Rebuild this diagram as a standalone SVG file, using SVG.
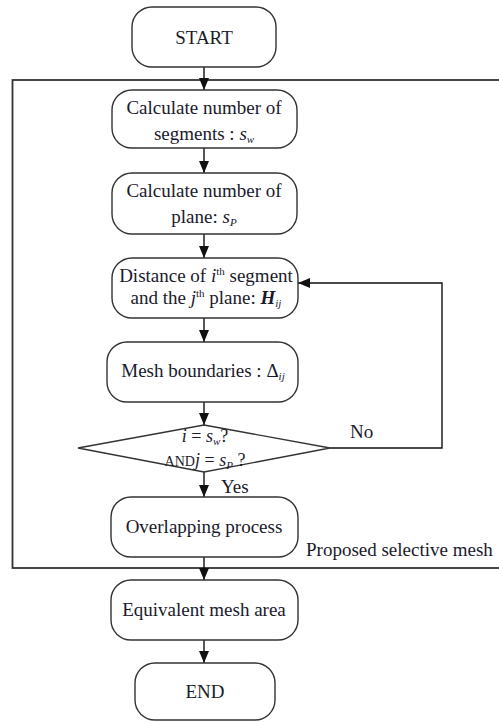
<svg xmlns="http://www.w3.org/2000/svg" width="499" height="723" viewBox="0 0 499 723">
<defs>
<marker id="ah" markerWidth="13" markerHeight="10" refX="12" refY="5" orient="auto" markerUnits="userSpaceOnUse" viewBox="0 0 13 10">
<path d="M0,0 L12,5 L0,10 Z" fill="#111"/>
</marker>
</defs>
<style>
.box{fill:#fff;stroke:#333;stroke-width:1.4}
.frame{fill:none;stroke:#333;stroke-width:1.8}
.t{font-family:"Liberation Serif","Times New Roman",serif;font-size:19px;fill:#1a1a2c;text-anchor:middle}
.s{font-family:"Liberation Serif","Times New Roman",serif;font-size:18px;fill:#1a1a2c;text-anchor:middle}
.l{font-family:"Liberation Serif","Times New Roman",serif;font-size:19px;fill:#1a1a2c}
.i{font-style:italic}
.c{fill:none;stroke:#111;stroke-width:1.4}
</style>
<rect width="499" height="723" fill="#fff"/>
<g id="frame">
<rect class="frame" x="12.5" y="80" width="500" height="488"/>
<text class="l" x="306" y="556">Proposed selective mesh</text>
</g>
<g id="connectors">
<line class="c" x1="204" y1="67" x2="204" y2="90" marker-end="url(#ah)"/>
<line class="c" x1="204" y1="148" x2="204" y2="173" marker-end="url(#ah)"/>
<line class="c" x1="204" y1="234" x2="204" y2="258" marker-end="url(#ah)"/>
<line class="c" x1="204" y1="318" x2="204" y2="342" marker-end="url(#ah)"/>
<line class="c" x1="204" y1="402" x2="204" y2="425" marker-end="url(#ah)"/>
<line class="c" x1="204" y1="472" x2="204" y2="497" marker-end="url(#ah)"/>
<polyline class="c" points="330,448 442,448 442,283 298,283" marker-end="url(#ah)"/>
<line class="c" x1="204" y1="557" x2="204" y2="580" marker-end="url(#ah)"/>
<line class="c" x1="204" y1="640" x2="204" y2="663" marker-end="url(#ah)"/>
<text class="l" x="350" y="438">No</text>
<text class="l" x="221" y="493">Yes</text>
</g>
<g id="start">
<rect class="box" x="132" y="7" width="144" height="60" rx="20"/>
<text class="t" x="204" y="44">START</text>
</g>
<g id="segments">
<rect class="box" x="112" y="90" width="185" height="58" rx="20"/>
<text class="t" x="204" y="114">Calculate number of</text>
<text class="t" x="204" y="140">segments : <tspan class="i">s</tspan><tspan class="i" font-size="11" dy="3">w</tspan></text>
</g>
<g id="plane">
<rect class="box" x="112" y="173" width="185" height="61" rx="20"/>
<text class="t" x="204" y="197">Calculate number of</text>
<text class="t" x="204" y="223">plane: <tspan class="i">s</tspan><tspan class="i" font-size="11" dy="3">P</tspan></text>
</g>
<g id="distance">
<rect class="box" x="112" y="258" width="186" height="60" rx="20"/>
<text class="t" x="206" y="282">Distance of <tspan class="i">i</tspan><tspan font-size="11" dy="-7">th</tspan><tspan dy="7"> segment</tspan></text>
<text class="t" x="206" y="304">and the <tspan class="i">j</tspan><tspan font-size="11" dy="-7">th</tspan><tspan dy="7"> plane: </tspan><tspan class="i" font-weight="bold">H</tspan><tspan class="i" font-size="11" dy="3">ij</tspan></text>
</g>
<g id="mesh">
<rect class="box" x="107" y="342" width="191" height="60" rx="20"/>
<text class="t" x="203" y="377">Mesh boundaries : Δ<tspan class="i" font-size="11" dy="3">ij</tspan></text>
</g>
<g id="decision">
<polygon class="box" points="204,425 330,448 204,472 78,448"/>
<text class="s" x="205" y="442"><tspan class="i">i</tspan> = <tspan class="i">s</tspan><tspan class="i" font-size="11" dy="3">w</tspan><tspan dy="-3">?</tspan></text>
<text class="s" x="205" y="466"><tspan font-size="14">AND</tspan><tspan class="i">j</tspan> = <tspan class="i">s</tspan><tspan class="i" font-size="11" dy="3">P</tspan><tspan dy="-3"> ?</tspan></text>
</g>
<g id="overlap">
<rect class="box" x="111" y="497" width="187" height="60" rx="20"/>
<text class="t" x="204" y="533">Overlapping process</text>
</g>
<g id="equivalent">
<rect class="box" x="111" y="580" width="187" height="60" rx="20"/>
<text class="t" x="204" y="616">Equivalent mesh area</text>
</g>
<g id="end">
<rect class="box" x="135" y="663" width="140" height="57" rx="20"/>
<text class="t" x="205" y="698">END</text>
</g>
</svg>
